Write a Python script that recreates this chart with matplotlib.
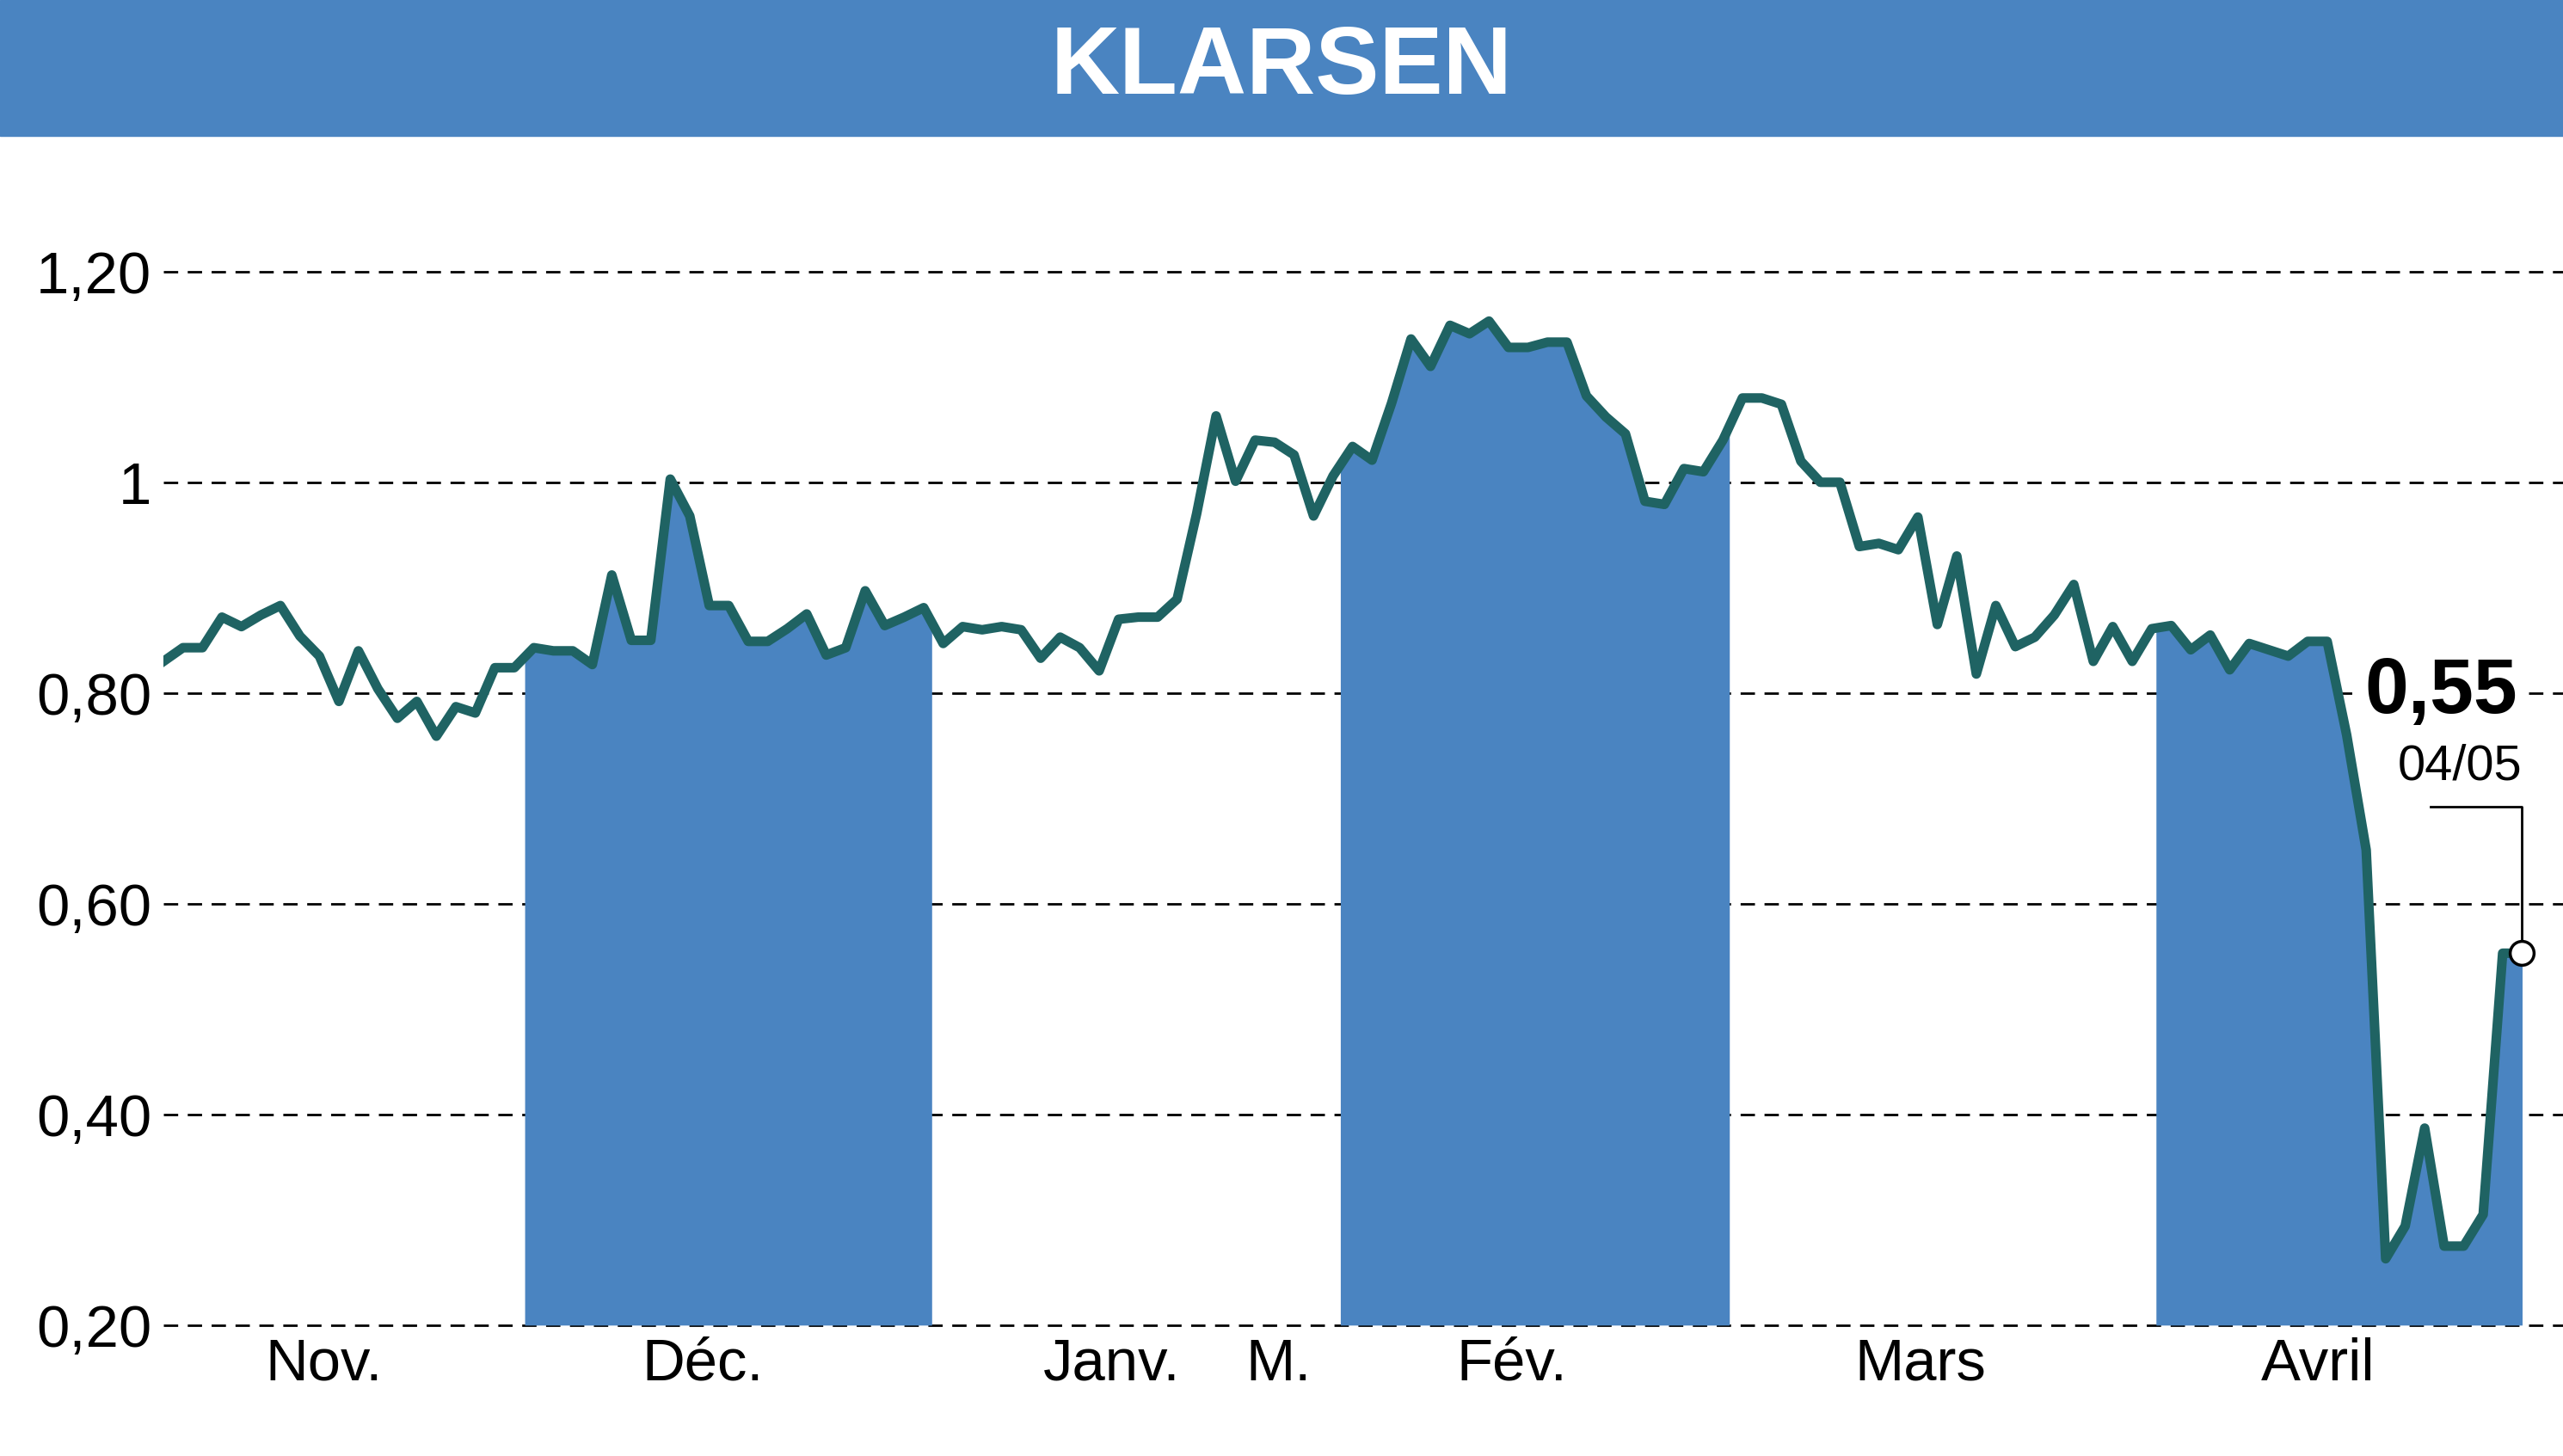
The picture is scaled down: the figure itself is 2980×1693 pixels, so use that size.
import matplotlib
matplotlib.use("Agg")
import matplotlib.pyplot as plt
import numpy as np

title = "KLARSEN"
values = [0.83,0.843,0.843,0.872,0.863,0.874,0.883,0.854,0.835,0.792,0.840,0.804,0.776,0.792,0.759,0.787,0.781,0.824,0.824,0.843,0.840,0.840,0.827,0.912,0.850,0.850,1.003,0.968,0.883,0.883,0.849,0.849,0.861,0.875,0.836,0.843,0.897,0.864,0.872,0.881,0.847,0.863,0.860,0.863,0.860,0.833,0.853,0.843,0.821,0.870,0.872,0.872,0.889,0.970,1.063,1.001,1.040,1.038,1.026,0.968,1.006,1.034,1.021,1.075,1.136,1.110,1.149,1.141,1.153,1.128,1.128,1.133,1.133,1.082,1.062,1.046,0.982,0.979,1.013,1.010,1.040,1.080,1.080,1.074,1.020,1.000,1.000,0.939,0.942,0.936,0.967,0.865,0.930,0.818,0.883,0.844,0.853,0.874,0.903,0.830,0.863,0.830,0.861,0.864,0.841,0.855,0.822,0.847,0.841,0.835,0.849,0.849,0.760,0.651,0.263,0.294,0.387,0.275,0.275,0.305,0.553,0.553]
tick_labels = ["Nov.", "Déc.", "Janv.", "M.", "Fév.", "Mars", "Avril"]
tick_px = [198, 430, 680, 782, 925, 1175, 1418]
bands_px = [(321, 570), (820, 1058), (1319, 1545)]
yticks = [0.20, 0.40, 0.60, 0.80, 1.0, 1.20]
ytick_labels = ["0,20", "0,40", "0,60", "0,80", "1", "1,20"]
last_label = "0,55"
last_date = "04/05"

font = "Liberation Sans"
k = 0.8

n = len(values)
x = np.arange(n)
step = (1543 - 100) / (n - 1)
px2i = lambda p: (p - 100) / step

fig = plt.figure(figsize=(29.8, 16.93), dpi=100)
fig.patches.append(plt.Rectangle((0, 1 - 83/890), 1, 83/890, transform=fig.transFigure, color="#4a84c1", zorder=0))
fig.text(0.5, 1 - 42/890, title, ha="center", va="center", color="white", fontsize=100*k, fontweight="bold", family=font)

ax = fig.add_axes([100/1568, 1 - 810/890, 1 - 100/1568, (810 - 83)/890])
ax.set_xlim(0, px2i(1568))
ax.set_ylim(0.2, 1.2 + (166 - 83) / 644)
v = np.array(values)
for a, b in bands_px:
    xa, xb = px2i(a), min(px2i(b), n - 1)
    xs = np.concatenate([[xa], x[(x > xa) & (x < xb)], [xb]])
    ax.fill_between(xs, 0.2, np.interp(xs, x, v), color="#4a84c1", linewidth=0, zorder=1)
for t in yticks:
    ax.axhline(t, color="black", ls=(0, (6, 4)), lw=2, zorder=0, clip_on=False)
ax.plot(x, v, color="#1f6363", lw=8, marker="o", ms=4, zorder=3, solid_joinstyle="round")
ax.plot(x[-1], v[-1], "o", mfc="white", mec="black", ms=20, mew=2.5, zorder=8)
for s in ax.spines.values():
    s.set_visible(False)
ax.set_yticks(yticks)
ax.set_yticklabels(ytick_labels, fontsize=62*k, family=font)
ax.set_xticks([px2i(p) for p in tick_px])
ax.set_xticklabels(tick_labels, fontsize=62*k, family=font)
ax.tick_params(length=0, pad=10)
xl = px2i(1487)
ax.text(px2i(1540), 0.80, last_label, ha="right", va="center", fontsize=82*k, fontweight="bold", family=font, zorder=6,
        bbox=dict(facecolor="white", edgecolor="none", pad=2))
ax.text(px2i(1543), 0.73, last_date, ha="right", va="center", fontsize=52*k, family=font, zorder=6,
        bbox=dict(facecolor="white", edgecolor="none", pad=1))
y_con = 1.2 - (493 - 166) / 644
ax.plot([xl, x[-1], x[-1]], [y_con, y_con, v[-1]], color="black", lw=2, zorder=7)
fig.savefig("out.png", dpi=100)
